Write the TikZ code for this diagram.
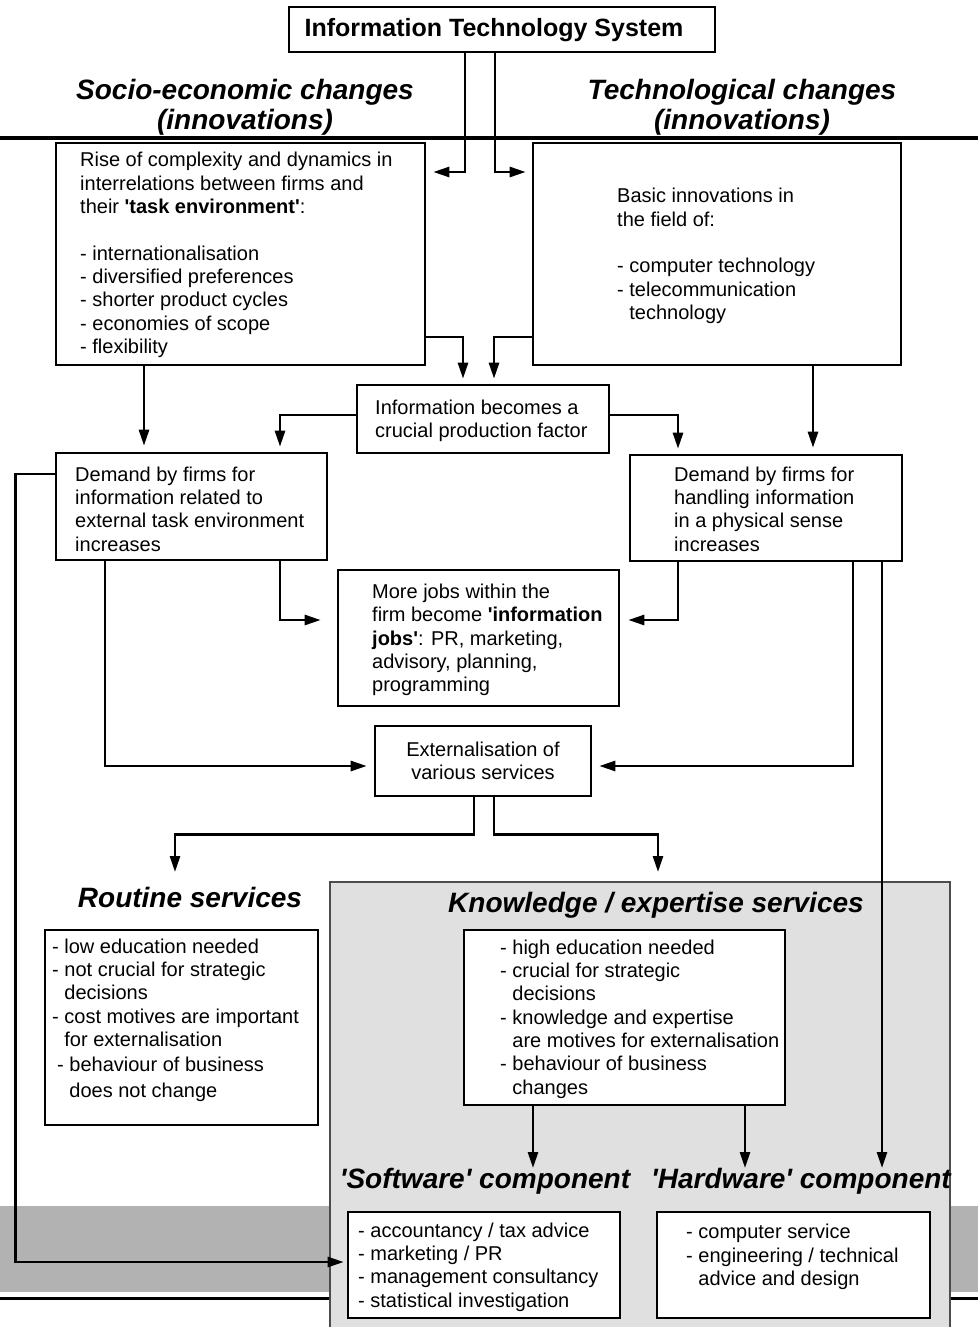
\documentclass[tikz,border=0pt]{standalone}
\usepackage{fontspec}
\setmainfont{Liberation Sans}[Ligatures=TeXOff]
\usetikzlibrary{arrows.meta}
\begin{document}
\begin{tikzpicture}[x=1pt,y=-1pt,
  box/.style={draw, line width=2.6pt, fill=white, inner sep=0pt},
  body/.style={font=\fontsize{20}{23.3}\selectfont, align=left, inner sep=0pt, anchor=west},
  head/.style={font=\fontsize{28}{30}\selectfont\bfseries\itshape, inner sep=0pt, align=center},
  arr/.style={line width=2.6pt, -{Triangle[length=16pt,width=10pt]}},
  link/.style={line width=2.6pt}]
\useasboundingbox (0,0) rectangle (978,1327);

% background band, bottom rule and the knowledge panel
\fill[black!30] (0,1206) rectangle (978,1292);
\draw[line width=3pt] (0,1298) -- (978,1298);
\draw[fill=black!12, draw=black!70, line width=1.2pt] (330,882) rectangle (950,1345);

% top rule under the column headings
\draw[line width=3pt] (0,138) -- (978,138);

% title box
\node[box, minimum width=426, minimum height=45] (its) at (502,29.5) {};
\node[font=\fontsize{25}{28}\selectfont\bfseries, inner sep=0pt] (itsT) at (494,30) {Information Technology System};

% column headings
\node[head] (socH) at (245,107) {Socio-economic changes\\(innovations)};
\node[head] (techH) at (742,107) {Technological changes\\(innovations)};

% upper boxes
\node[box, minimum width=369, minimum height=222] (rise) at (240.5,254) {};
\node[body] (riseT) at (80,255) {Rise of complexity and dynamics in\\
interrelations between firms and\\
their \textbf{'task environment'}:\\[23.3pt]
- internationalisation\\
- diversified preferences\\
- shorter product cycles\\
- economies of scope\\
- flexibility};

\node[box, minimum width=368, minimum height=222] (basic) at (717,254) {};
\node[body] (basicT) at (617,256) {Basic innovations in\\
the field of:\\[23.3pt]
- computer technology\\
- telecommunication\\
\phantom{- }technology};

\node[box, minimum width=252, minimum height=68] (crucial) at (483,419) {};
\node[body] (crucialT) at (375,421) {Information becomes a\\crucial production factor};

\node[box, minimum width=271, minimum height=107] (demL) at (191.5,506.5) {};
\node[body] (demLT) at (75,509) {Demand by firms for\\
information related to\\
external task environment\\
increases};

\node[box, minimum width=272, minimum height=106] (demR) at (766,508) {};
\node[body] (demRT) at (674,509) {Demand by firms for\\
handling information\\
in a physical sense\\
increases};

\node[box, minimum width=281, minimum height=136] (jobs) at (478.5,638) {};
\node[body] (jobsT) at (372,640) {More jobs within the\\
firm become \textbf{'information}\\
\textbf{jobs'}: PR, marketing,\\
advisory, planning,\\
programming};

\node[box, minimum width=216, minimum height=70, align=center,
      font=\fontsize{20}{23.3}\selectfont] (ext) at (483,761) {Externalisation of\\various services};

% lower part
\node[head] (routH) at (190,897) {Routine services};
\node[box, minimum width=273, minimum height=195] (rout) at (181.5,1027.5) {};
\node[body] (routT) at (52,1020) {- low education needed\\
- not crucial for strategic\\
\phantom{- }decisions\\
- cost motives are important\\
\phantom{- }for externalisation\\[2pt]
\hspace{5pt}- behaviour of business\\[2pt]
\phantom{- }\hspace{5pt}does not change};

\node[head] (knowH) at (656,905) {Knowledge / expertise services};
\node[box, minimum width=321, minimum height=175] (know) at (624.5,1017.5) {};
\node[body] (knowT) at (500,1019) {- high education needed\\
- crucial for strategic\\
\phantom{- }decisions\\
- knowledge and expertise\\
\phantom{- }are motives for externalisation\\
- behaviour of business\\
\phantom{- }changes};

\node[head] (softH) at (485,1181) {'Software' component};
\node[head] (hardH) at (801,1181) {'Hardware' component};

\node[box, minimum width=272, minimum height=106] (soft) at (484,1265) {};
\node[body] (softT) at (358,1267) {- accountancy / tax advice\\
- marketing / PR\\
- management consultancy\\
- statistical investigation};

\node[box, minimum width=273, minimum height=106] (hard) at (793.5,1265) {};
\node[body] (hardT) at (686,1257) {- computer service\\
- engineering / technical\\
\phantom{- }advice and design};

% arrow end points above the headings
\coordinate (routIn) at (175,872);
\coordinate (knowIn) at (658,872);
\coordinate (softIn) at (533,1168);
\coordinate (hardIn) at (745,1168);
\coordinate (hwIn) at (882,1168);

% connectors
\draw[arr, shorten >=7pt] (its.south -| 465,0) |- (rise.east |- 0,172);
\draw[arr, shorten >=6pt] (its.south -| 495,0) |- (basic.west |- 0,172);
\draw[arr, shorten >=5pt] (rise.east |- 0,337) -| (crucial.north -| 463,0);
\draw[arr, shorten >=5pt] (basic.west |- 0,337) -| (crucial.north -| 494,0);
\draw[arr, shorten >=6pt] (rise.south -| 144,0) -- (demL.north -| 144,0);
\draw[arr, shorten >=6pt] (basic.south -| 813,0) -- (demR.north -| 813,0);
\draw[arr, shorten >=5pt] (crucial.west |- 0,415) -| (demL.north -| 280,0);
\draw[arr, shorten >=5pt] (crucial.east |- 0,415) -| (demR.north -| 678,0);
\draw[arr, shorten >=16pt] (demL.south -| 280,0) |- (jobs.west |- 0,620);
\draw[arr, shorten >=8pt] (demR.south -| 678,0) |- (jobs.east |- 0,620);
\draw[arr, shorten >=7pt] (demL.south -| 105,0) |- (ext.west |- 0,766);
\draw[arr, shorten >=7pt] (demR.south -| 853,0) |- (ext.east |- 0,766);
\draw[arr] (demR.south -| 882,0) -- (hwIn);
\draw[arr] (ext.south -| 474,0) -- ++(0,37) -| (routIn);
\draw[arr] (ext.south -| 494,0) -- ++(0,37) -| (knowIn);
\draw[arr] (know.south -| 533,0) -- (softIn);
\draw[arr] (know.south -| 745,0) -- (hardIn);
\draw[arr, shorten >=3pt] (demL.west |- 0,474) -- ++(-39,0) |- (soft.west |- 0,1262);
\end{tikzpicture}
\end{document}
